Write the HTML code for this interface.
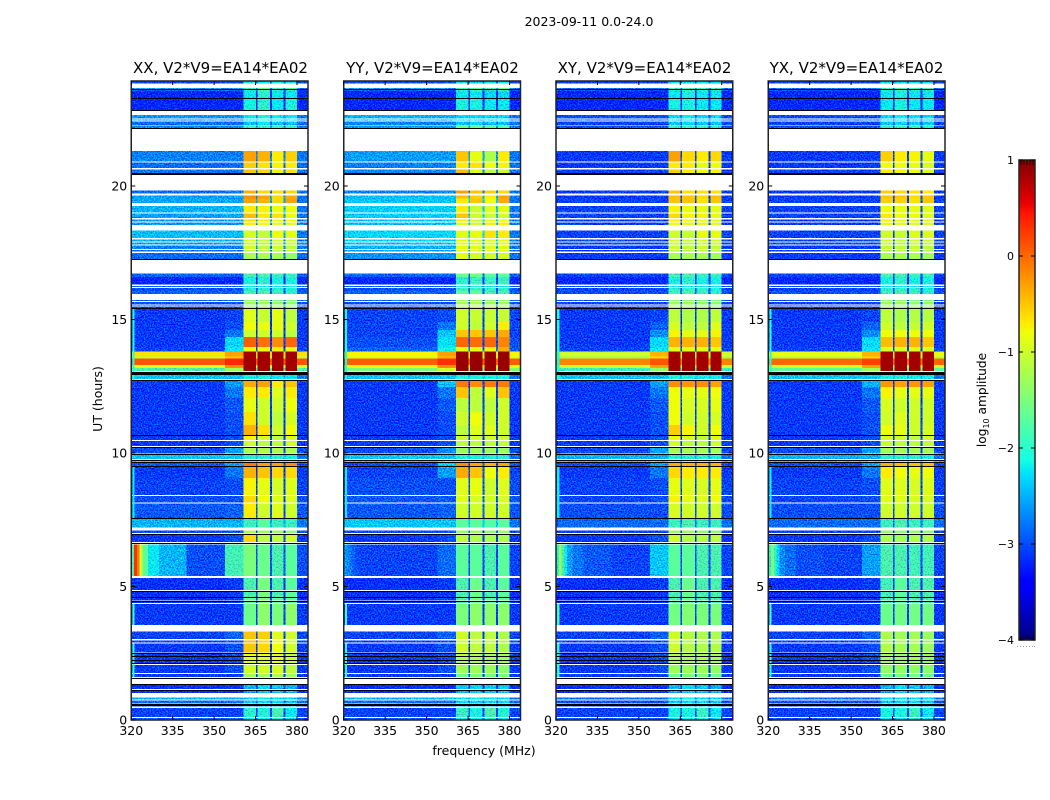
<!DOCTYPE html>
<html lang="en">
<head>
<meta charset="utf-8">
<title>2023-09-11 0.0-24.0</title>
<style>
html,body{margin:0;padding:0;background:#fff;width:1050px;height:800px;overflow:hidden}
svg{display:block}
text{font-family:"DejaVu Sans","Liberation Sans",sans-serif;fill:#000}
</style>
</head>
<body>
<svg id="figure" xmlns="http://www.w3.org/2000/svg" width="1050" height="800" viewBox="0 0 1050 800">
<defs>
<filter id="speckle" x="0" y="0" width="1" height="1" color-interpolation-filters="sRGB">
<feTurbulence type="fractalNoise" baseFrequency="0.7" numOctaves="2" seed="7" result="t"/>
<feColorMatrix in="t" type="matrix" values="0 0 0 0 .5  2.4 0 0 0 -.7  0 0 0 0 .5  0 0 0 0 1" result="n"/>
<feComposite in="SourceGraphic" in2="n" operator="arithmetic" k1="0" k2="1" k3=".6" k4="-.3" result="c"/>
<feComposite in="c" in2="SourceAlpha" operator="in"/>
</filter>
</defs>
<text x="589" y="26" font-size="12.5" text-anchor="middle">2023-09-11 0.0-24.0</text>
<text x="220.5" y="73" font-size="15" text-anchor="middle">XX, V2*V9=EA14*EA02</text>
<text x="432.5" y="73" font-size="15" text-anchor="middle">YY, V2*V9=EA14*EA02</text>
<text x="644.5" y="73" font-size="15" text-anchor="middle">XY, V2*V9=EA14*EA02</text>
<text x="856.5" y="73" font-size="15" text-anchor="middle">YX, V2*V9=EA14*EA02</text>
<text x="0" y="0" font-size="12.5" text-anchor="middle" transform="translate(102,399) rotate(-90)">UT (hours)</text>
<text x="484" y="755" font-size="12.5" text-anchor="middle">frequency (MHz)</text>
<text x="0" y="0" font-size="12.2" text-anchor="middle" transform="translate(986,400) rotate(-90)">log<tspan font-size="8" dy="3">10</tspan><tspan dy="-3"> amplitude</tspan></text>
<g id="panels"></g>
<g id="colorbar"></g>
</svg>
<script>
const freqTicks = [320, 335, 350, 365, 380];
const utTicks = [0, 5, 10, 15, 20];
const colorbarTicks = [1, 0, -1, -2, -3, -4];
const polarizations = ['xx', 'yy', 'xy', 'yx'];

// frequency bands (MHz): main background, glow, window 1, gap, window 2, gap, window 3, gap, window 4, right edge
const freqEdges = [320, 354, 360.7, 365.1, 365.7, 370.3, 370.9, 375.2, 375.9, 380, 384];
const bandSource = [0, 1, 2, 0, 3, 0, 4, 0, 5, 0];

const utTop = [23.93,23.67,23.58,23.30,22.66,22.49,22.42,22.25,21.31,20.88,20.62,19.83,19.64,19.53,19.25,18.97,18.75,18.63,18.33,18.00,17.88,17.77,17.60,17.49,17.32,16.72,16.59,16.25,16.18,16.09,15.73,15.66,15.52,15.47,15.41,14.91,14.61,14.34,13.97,13.80,13.61,13.54,13.30,13.18,12.93,12.73,12.47,12.06,11.54,11.05,10.64,10.45,10.22,9.94,9.68,9.49,9.06,8.39,8.11,7.53,7.10,6.97,6.57,5.32,4.83,4.57,4.46,4.34,3.31,2.98,2.87,2.49,2.36,2.23,2.06,1.72,1.31,1.12,0.84,0.73,0.56,0.45,0.07];
const utBottom = [23.84,23.58,23.30,22.85,22.53,22.45,22.27,22.16,20.92,20.67,20.49,19.72,19.53,19.36,19.01,18.80,18.67,18.54,18.05,17.92,17.81,17.64,17.55,17.32,17.25,16.59,16.31,16.22,16.09,15.96,15.69,15.56,15.49,15.41,14.91,14.61,14.34,13.97,13.80,13.61,13.54,13.30,13.18,13.07,12.77,12.47,12.06,11.54,11.05,10.67,10.49,10.26,9.98,9.78,9.51,9.06,8.43,8.15,7.57,7.21,7.00,6.67,5.39,4.87,4.61,4.48,4.38,3.56,3.03,2.90,2.53,2.40,2.25,2.13,1.76,1.61,1.16,1.01,0.77,0.62,0.51,0.11,0];

// each row: log10 amplitude [background, glow, window1, window2, window3, window4]
const xxLevels = [
[-3,-3,-2.1,-2.2,-2.1,-2.2],[-2.6,-2.6,-1.9,-1.7,-1.9,-1.8],[-3.2,-3.2,-2.2,-2,-2.2,-2.2],[-3.2,-3.2,-2.1,-2,-2.2,-2.1],[-2.65,-2.65,-2.2,-2.1,-2.2,-2.2],[-2.7,-2.7,-2.3,-2.2,-2.3,-2.3],[-2.85,-2.85,-2.4,-2.2,-2.4,-2.4],[-2.7,-2.7,-1.9,-1.9,-1.9,-2],
[-2.75,-2.75,-.3,-.4,-.7,-.55],[-2.85,-2.85,-.55,-.65,-.75,-.7],[-2.8,-2.8,-.5,-.6,-.75,-.65],
[-2.85,-2.8,-.4,-.6,-.65,-.6],[-2.6,-2.6,-.2,-.3,-.6,-.35],[-2.55,-2.55,-.3,-.4,-.6,-.3],[-2.5,-2.5,-.7,-.75,-.8,-.8],[-2.6,-2.55,-.45,-.7,-.65,-.8],[-2.6,-2.6,-.6,-.7,-.8,-.8],[-2.65,-2.65,-.7,-.8,-.9,-.9],[-2.45,-2.45,-.95,-1.05,-.8,-.85],[-2.55,-2.55,-.9,-1.05,-.95,-1],[-2.6,-2.6,-1,-1.1,-1,-1],[-2.75,-2.75,-1,-1.1,-1,-1.1],[-2.8,-2.8,-1.1,-1.1,-1.1,-1.1],[-2.85,-2.85,-1.2,-1.2,-1.2,-1.3],[-2.9,-2.9,-1.3,-1.3,-1.3,-1.3],
[-2.9,-2.9,-1.8,-1.8,-1.9,-1.9],[-3.2,-3.2,-2.1,-2,-2.1,-2.1],[-2.9,-2.9,-2.2,-2.2,-2.2,-2.2],[-3,-3,-2,-2,-2,-2.1],[-2.9,-2.9,-1.9,-1.8,-1.9,-2],[-2.9,-2.9,-1.4,-1.4,-1.5,-1.5],[-3,-3,-1.3,-1.3,-1.4,-1.4],[-3,-3,-1.3,-1.3,-1.3,-1.4],[-3.1,-3.1,-1.2,-1.3,-1.3,-1.3],
[-3.1,-3.05,-.9,-1.05,-.85,-1.1],[-3.1,-3,-.8,-.85,-.85,-1],[-3.1,-2.8,-1,-1,-1,-1.1],[-3.1,-2.3,.05,-.05,-.2,0],[-3.05,-2.2,-.8,-.8,-.7,-.8],[-.65,-.3,.85,.85,.85,.85],[-1.1,-.5,.85,.85,.85,.85],[.1,.35,.85,.85,.85,.85],[-.9,-.2,.85,.85,.85,.85],[-1.8,-1.3,.85,.85,.85,.85],[-2.4,-2.4,-2.1,-2.1,-2.2,-2.2],
[-3.1,-2.6,-.35,-.3,-.7,-.5],[-3.1,-2.8,-.7,-.7,-.9,-.7],[-3.1,-2.95,-.85,-1,-1,-.8],[-3.1,-3,-.65,-1,-1.1,-.95],[-3.1,-3,-.4,-.65,-1,-.8],[-3.1,-3,-.75,-.9,-1.1,-.9],[-3.1,-3,-1,-1.1,-1.1,-1],[-3,-2.6,-1.2,-1.2,-1.2,-1.2],[-2.4,-2.4,-2,-2,-2,-2.1],[-2.95,-2.6,-.1,-.3,-.3,-.2],[-3.1,-2.8,-.4,-.5,-.6,-.6],[-3.05,-3,-.75,-.85,-.95,-.9],[-3,-3,-.6,-.8,-.9,-.9],[-2.95,-2.9,-.7,-1,-.9,-1],[-2.5,-2.5,-1.9,-1.7,-1.9,-1.9],[-3,-3,-1.2,-1.3,-1.3,-1.4],[-3.1,-3,-.6,-1.1,-1.1,-1],[-3,-1.85,-1.5,-1.6,-1.8,-1.7],
[-3.15,-3.1,-1.8,-1.5,-1.8,-1.7],[-3.15,-3.1,-1.8,-1.5,-1.8,-1.7],[-3.15,-3.1,-1.7,-1.5,-1.7,-1.7],[-3.15,-3.1,-1.7,-1.5,-1.7,-1.7],[-3.1,-3.1,-1.6,-1.4,-1.5,-1.4],
[-3.05,-2.9,-.5,-.55,-.9,-1],[-3.05,-3,-.5,-.6,-.8,-1],[-3.1,-3,-.5,-.6,-.8,-1],[-3.1,-3,-.8,-.8,-.85,-1],[-3.1,-3,-.85,-.85,-.85,-1],[-3.1,-3,-.9,-.9,-.85,-1],[-3.1,-3,-1,-1,-.95,-1.1],[-3.1,-3.1,-1.3,-1.3,-1.2,-1.3],
[-3.15,-3.15,-2.5,-2.3,-2.4,-2.5],[-3.15,-3.15,-2.6,-2.4,-2.4,-2.5],[-2.5,-2.5,-2.3,-2.2,-2.3,-2.3],[-2.85,-2.85,-2.4,-2.3,-2.3,-2.4],[-3,-3,-2.4,-2.4,-2.4,-2.5],[-3.05,-3.05,-2,-2.05,-1.8,-2.2],[-2.95,-2.95,-2.2,-2.2,-2,-2.3]
];
const yyLevels = [
[-3,-3,-2.2,-2.3,-2.2,-2.2],[-2.6,-2.6,-1.9,-1.7,-1.8,-1.6],[-3.2,-3.2,-2.2,-2.2,-2.3,-2.3],[-3.2,-3.2,-2.1,-2.1,-2.2,-2.2],[-2.5,-2.5,-2.3,-2.3,-2.3,-2.3],[-2.55,-2.55,-2.3,-2.3,-2.3,-2.3],[-2.75,-2.75,-2.4,-2.3,-2.4,-2.4],[-2.6,-2.6,-1.6,-1.6,-1.7,-1.7],
[-2.6,-2.6,-.5,-.85,-1.2,-.7],[-2.75,-2.75,-.7,-.65,-.8,-.75],[-2.7,-2.7,-.45,-.9,-1.1,-1],
[-2.75,-2.7,-.3,-.5,-.55,-.6],[-2.45,-2.45,-.45,-.55,-.7,-.3],[-2.4,-2.4,-.7,-.5,-.8,-.35],[-2.35,-2.35,-.7,-1,-.9,-.85],[-2.35,-2.35,-.5,-1,-1,-.95],[-2.4,-2.4,-.7,-1,-.9,-.9],[-2.45,-2.45,-.9,-1,-.7,-.75],[-2.3,-2.3,-.9,-.85,-.65,-.7],[-2.35,-2.35,-.85,-.9,-.9,-.85],[-2.45,-2.45,-.85,-.9,-.9,-.85],[-2.5,-2.5,-.85,-.9,-.9,-.9],[-2.6,-2.6,-.85,-.9,-.9,-.9],[-2.65,-2.65,-.85,-.95,-.95,-.95],[-2.7,-2.7,-.9,-1,-1,-1],
[-2.9,-2.9,-1.6,-1.6,-1.7,-1.7],[-3.2,-3.2,-2,-1.9,-1.9,-1.9],[-2.9,-2.9,-2.1,-2.1,-2.2,-2.2],[-3,-3,-1.9,-1.9,-2,-2],[-2.9,-2.9,-1.7,-1.7,-1.8,-1.8],[-2.9,-2.9,-1.3,-1.3,-1.4,-1.4],[-3,-3,-1.2,-1.2,-1.3,-1.3],[-3,-3,-1.2,-1.2,-1.2,-1.2],[-3.1,-3.1,-1.1,-1.1,-1.1,-1.2],
[-3.05,-3,-1,-1.05,-1.05,-1.05],[-3.05,-2.8,-1,-1.1,-1,-.7],[-3.05,-2.4,-.5,-.5,-.5,-.35],[-3,-2.25,0,-.02,0,-.15],[-2.9,-2.1,-.85,-.85,-.75,-.35],[-.75,-.3,.9,.9,.9,.9],[-.95,-.4,.9,.9,.9,.9],[.05,.3,.9,.9,.9,.9],[-.75,-.2,.9,.9,.9,.9],[-1.5,-1,.9,.9,.9,.9],[-2.4,-2.4,-2.1,-2.1,-2.1,-2.1],
[-3.1,-2.4,-.1,-.2,-.1,-.1],[-3.1,-2.8,-.5,-1.1,-.9,-.5],[-3.1,-2.95,-1.1,-1.1,-1.1,-1],[-3.1,-3,-1,-.8,-1,-1],[-3.1,-3,-1.1,-.9,-.9,-1],[-3.1,-3,-1,-1,-1,-1],[-3.1,-3,-1.1,-1.1,-1.1,-1.05],[-3,-2.7,-1.3,-1.3,-1.3,-1.3],[-2.4,-2.4,-2.05,-2.1,-2.05,-2],[-3,-2.4,-.2,-.3,-.4,-.3],[-3.05,-2.6,-.35,-.5,-.8,-.7],[-3,-3,-.9,-.85,-1,-.9],[-2.95,-2.95,-.9,-.95,-1,-.95],[-2.95,-2.9,-1,-1,-1,-1],[-2.4,-2.4,-1.7,-1.7,-1.75,-1.7],[-3,-3,-1.4,-1.3,-1.4,-1.3],[-3.1,-3,-1.1,-1.2,-1.2,-1.2],[-3.05,-2.85,-1.7,-1.7,-1.8,-1.7],
[-3.15,-3.1,-1.8,-1.6,-1.8,-1.7],[-3.15,-3.1,-1.8,-1.6,-1.8,-1.7],[-3.15,-3.1,-1.8,-1.6,-1.7,-1.7],[-3.15,-3.1,-1.8,-1.6,-1.7,-1.7],[-3.1,-3.1,-1.5,-1.4,-1.4,-1.4],
[-3.05,-2.9,-1,-1.1,-1.1,-1.2],[-3.05,-3,-1,-1.1,-1.1,-1.2],[-3.1,-3,-1,-1.1,-1.1,-1.2],[-3.1,-3,-1.1,-1.2,-1.2,-1.25],[-3.1,-3,-1.15,-1.2,-1.2,-1.3],[-3.1,-3,-1.2,-1.25,-1.25,-1.3],[-3.1,-3,-1.3,-1.3,-1.3,-1.4],[-3.1,-3.1,-1.6,-1.5,-1.5,-1.5],
[-3.15,-3.15,-2.4,-2.3,-2.4,-2.4],[-3.15,-3.15,-2.5,-2.4,-2.4,-2.4],[-2.45,-2.45,-2.3,-2.2,-2.3,-2.3],[-2.85,-2.85,-2.3,-2.3,-2.3,-2.3],[-3,-3,-2.4,-2.4,-2.4,-2.4],[-3.05,-3.05,-1.9,-2.1,-1.8,-2],[-2.95,-2.95,-2.2,-2.2,-2,-2.2]
];
const xyLevels = [
[-3.05,-3.05,-2.2,-2.3,-2.2,-2.3],[-2.8,-2.8,-1.9,-1.8,-1.9,-1.8],[-3.2,-3.2,-2.2,-2.1,-2.2,-2.2],[-3.2,-3.2,-2.1,-2.1,-2.2,-2.2],[-3,-3,-2.3,-2.2,-2.3,-2.3],[-3,-3,-2.3,-2.3,-2.3,-2.3],[-3.05,-3.05,-2.4,-2.3,-2.4,-2.4],[-3,-3,-1.9,-1.9,-1.9,-2],
[-3.1,-3.1,-.3,-.6,-.7,-.6],[-3.1,-3.1,-.7,-.7,-.85,-.8],[-3.05,-3.05,-.55,-.7,-.8,-.75],
[-3.1,-3.1,-.5,-.65,-.65,-.65],[-3.1,-3.1,-.45,-.5,-.6,-.45],[-3.05,-3.05,-.5,-.5,-.65,-.5],[-3.05,-3.05,-.75,-.85,-.85,-.85],[-3.05,-3.05,-.6,-.75,-.75,-.85],[-3.1,-3.1,-.7,-.8,-.85,-.85],[-3.1,-3.1,-.8,-.9,-.9,-.9],[-3.05,-3.05,-1,-1.05,-.85,-.85],[-3.05,-3.05,-.95,-1.05,-.95,-1],[-3.05,-3.05,-1,-1.1,-1,-1],[-3.1,-3.1,-1,-1.1,-1,-1.1],[-3.1,-3.1,-1.1,-1.1,-1.1,-1.1],[-3.1,-3.1,-1.2,-1.2,-1.2,-1.25],[-3.1,-3.1,-1.3,-1.3,-1.3,-1.3],
[-3.05,-3.05,-1.8,-1.8,-1.9,-1.9],[-3.2,-3.2,-2.1,-2,-2.1,-2.1],[-3,-3,-2.2,-2.2,-2.2,-2.2],[-3.05,-3.05,-2,-2,-2,-2.1],[-3,-3,-1.9,-1.8,-1.9,-2],[-3,-3,-1.4,-1.4,-1.5,-1.5],[-3.05,-3.05,-1.3,-1.3,-1.4,-1.4],[-3.05,-3.05,-1.3,-1.3,-1.3,-1.4],[-3.1,-3.1,-1.2,-1.3,-1.3,-1.3],
[-3.1,-3.05,-1.1,-1.2,-1.2,-1.1],[-3.1,-2.9,-.95,-1.1,-1.1,-.9],[-3.1,-2.7,-.75,-.85,-.85,-.75],[-3.1,-2.3,-.4,-.4,-.4,-.5],[-3.05,-2.2,-.85,-.85,-.85,-.85],[-1,-.4,.85,.85,.85,.85],[-1.25,-.6,.85,.85,.85,.85],[-.15,.1,.85,.85,.85,.85],[-1,-.3,.85,.85,.85,.85],[-1.9,-1.4,.85,.85,.85,.85],[-2.4,-2.4,-2.1,-2.1,-2.15,-2.15],
[-3.1,-2.6,-.2,-.25,-.2,-.3],[-3.1,-2.8,-.8,-.85,-.85,-.8],[-3.1,-2.95,-.8,-.95,-.95,-.85],[-3.1,-3,-.8,-1,-1,-.95],[-3.1,-3,-.55,-.75,-1,-.8],[-3.1,-3,-.8,-.95,-1.1,-.9],[-3.1,-3,-1,-1.1,-1.1,-1],[-3,-2.6,-1.25,-1.25,-1.25,-1.25],[-2.5,-2.5,-2,-2,-2,-2.1],[-3,-2.6,-.35,-.4,-.4,-.4],[-3.1,-2.8,-.6,-.7,-.7,-.7],[-3.05,-3,-.85,-.9,-.95,-.85],[-3.05,-3,-.75,-.85,-.9,-.8],[-3,-3,-.95,-1,-1,-1],[-2.85,-2.85,-1.9,-1.8,-1.9,-1.9],[-3.05,-3.05,-1.3,-1.3,-1.4,-1.4],[-3.1,-3,-1,-1.15,-1.15,-1.1],[-3.05,-2.4,-1.7,-1.7,-1.8,-1.8],
[-3.15,-3.1,-1.8,-1.6,-1.8,-1.8],[-3.15,-3.1,-1.8,-1.6,-1.8,-1.8],[-3.15,-3.1,-1.8,-1.6,-1.8,-1.8],[-3.15,-3.1,-1.8,-1.6,-1.8,-1.8],[-3.1,-3.1,-1.55,-1.45,-1.5,-1.5],
[-3.05,-2.9,-1,-1.15,-1.2,-1.2],[-3.05,-3,-1,-1.15,-1.2,-1.2],[-3.1,-3,-1,-1.15,-1.2,-1.2],[-3.1,-3,-1.15,-1.2,-1.2,-1.25],[-3.1,-3,-1.2,-1.2,-1.2,-1.3],[-3.1,-3,-1.2,-1.25,-1.25,-1.3],[-3.1,-3,-1.3,-1.3,-1.3,-1.35],[-3.1,-3.1,-1.6,-1.5,-1.5,-1.6],
[-3.15,-3.15,-2.5,-2.3,-2.4,-2.5],[-3.15,-3.15,-2.6,-2.4,-2.4,-2.5],[-2.85,-2.85,-2.3,-2.2,-2.3,-2.3],[-3,-3,-2.4,-2.3,-2.3,-2.4],[-3.05,-3.05,-2.4,-2.4,-2.4,-2.5],[-3.05,-3.05,-2.1,-2.1,-1.9,-2.2],[-3,-3,-2.2,-2.2,-2,-2.3]
];
const yxLevels = [
[-3.05,-3.05,-2.2,-2.3,-2.2,-2.3],[-2.8,-2.8,-1.9,-1.8,-1.9,-1.8],[-3.2,-3.2,-2.2,-2.1,-2.2,-2.2],[-3.2,-3.2,-2.2,-2.1,-2.2,-2.2],[-3,-3,-2.3,-2.2,-2.3,-2.3],[-3,-3,-2.3,-2.3,-2.3,-2.3],[-3.05,-3.05,-2.4,-2.3,-2.4,-2.4],[-3,-3,-1.9,-1.9,-1.9,-2],
[-3.1,-3.1,-.55,-.7,-.75,-.85],[-3.1,-3.1,-.8,-.8,-.85,-.95],[-3.05,-3.05,-.7,-.75,-.8,-.9],
[-3.1,-3.1,-.55,-.6,-.65,-.7],[-3.1,-3.1,-.5,-.5,-.6,-.5],[-3.05,-3.05,-.55,-.55,-.65,-.5],[-3.05,-3.05,-.8,-.85,-.85,-.9],[-3.05,-3.05,-.7,-.8,-.8,-.9],[-3.1,-3.1,-.75,-.85,-.85,-.9],[-3.1,-3.1,-.85,-.9,-.9,-.95],[-3.05,-3.05,-1,-1.05,-.9,-.95],[-3.05,-3.05,-1,-1.05,-1,-1],[-3.05,-3.05,-1,-1.1,-1,-1.05],[-3.1,-3.1,-1.05,-1.1,-1.05,-1.1],[-3.1,-3.1,-1.1,-1.15,-1.1,-1.15],[-3.1,-3.1,-1.2,-1.2,-1.2,-1.25],[-3.1,-3.1,-1.3,-1.3,-1.3,-1.3],
[-3.05,-3.05,-1.8,-1.8,-1.9,-1.9],[-3.2,-3.2,-2.1,-2,-2.1,-2.1],[-3,-3,-2.2,-2.2,-2.2,-2.2],[-3.05,-3.05,-2,-2,-2,-2.1],[-3,-3,-1.9,-1.8,-1.9,-2],[-3,-3,-1.4,-1.4,-1.5,-1.5],[-3.05,-3.05,-1.3,-1.3,-1.4,-1.4],[-3.05,-3.05,-1.3,-1.3,-1.3,-1.4],[-3.1,-3.1,-1.2,-1.3,-1.3,-1.3],
[-3.1,-3.05,-1.1,-1.2,-1.15,-1.15],[-3.1,-2.9,-1,-1.1,-1.05,-1],[-3.1,-2.7,-.8,-.8,-.8,-.8],[-3.1,-2.3,-.45,-.4,-.4,-.5],[-3.05,-2.2,-.9,-.9,-.85,-.9],[-.85,-.4,.85,.85,.85,.85],[-1.15,-.6,.85,.85,.85,.85],[0,.2,.85,.85,.85,.85],[-.95,-.3,.85,.85,.85,.85],[-1.7,-1.3,.85,.85,.85,.85],[-2.4,-2.4,-2.1,-2.1,-2.15,-2.15],
[-3.1,-2.5,-.25,-.3,-.25,-.3],[-3.1,-2.8,-.75,-.85,-.85,-.85],[-3.1,-2.95,-.95,-1,-1,-1],[-3.1,-3,-1,-.9,-1,-1],[-3.1,-3,-.8,-.85,-1,-.95],[-3.1,-3,-.95,-1,-1.1,-1],[-3.1,-3,-1.05,-1.1,-1.1,-1.05],[-3,-2.6,-1.25,-1.25,-1.25,-1.25],[-2.5,-2.5,-2,-2,-2,-2.1],[-3,-2.6,-.35,-.45,-.45,-.45],[-3.1,-2.8,-.7,-.8,-.85,-.8],[-3.05,-3,-.9,-.9,-.95,-.9],[-3.05,-3,-.9,-.9,-.95,-.95],[-3,-3,-1,-1,-1,-1],[-2.85,-2.85,-1.9,-1.8,-1.9,-1.9],[-3.05,-3.05,-1.4,-1.4,-1.4,-1.4],[-3.1,-3,-1.2,-1.25,-1.2,-1.2],[-3.05,-2.6,-1.8,-1.8,-1.85,-1.85],
[-3.15,-3.1,-1.85,-1.7,-1.8,-1.8],[-3.15,-3.1,-1.85,-1.7,-1.8,-1.8],[-3.15,-3.1,-1.8,-1.7,-1.8,-1.8],[-3.15,-3.1,-1.8,-1.7,-1.8,-1.8],[-3.1,-3.1,-1.6,-1.55,-1.55,-1.55],
[-3.05,-2.9,-1.2,-1.25,-1.25,-1.3],[-3.05,-3,-1.2,-1.25,-1.25,-1.3],[-3.1,-3,-1.2,-1.25,-1.25,-1.3],[-3.1,-3,-1.25,-1.3,-1.25,-1.3],[-3.1,-3,-1.25,-1.3,-1.25,-1.35],[-3.1,-3,-1.3,-1.3,-1.3,-1.35],[-3.1,-3,-1.35,-1.35,-1.35,-1.4],[-3.1,-3.1,-1.6,-1.55,-1.55,-1.6],
[-3.15,-3.15,-2.5,-2.3,-2.4,-2.5],[-3.15,-3.15,-2.6,-2.4,-2.4,-2.5],[-2.85,-2.85,-2.3,-2.2,-2.3,-2.3],[-3,-3,-2.4,-2.3,-2.3,-2.4],[-3.05,-3.05,-2.4,-2.4,-2.4,-2.5],[-3.05,-3.05,-2.1,-2.1,-1.9,-2.2],[-3,-3,-2.2,-2.2,-2,-2.3]
];

// low-frequency interference at 5.39-6.57 UT, per polarization
const hotUt = [6.57, 5.39];
const hotFreqEdges = [320, 321, 322, 323, 324, 326, 330, 340];
const hotXX = [-1.8, 0.3, -0.1, -1, -1.7, -2.2, -2.5];
const hotYY = [-2.6, -2.7, -2.8, -2.9, -3, -3.05, -3.05];
const hotXY = [-2, -1.3, -1.8, -2.2, -2.6, -2.8, -2.95];
const hotYX = [-2, -1.5, -1.9, -2.3, -2.7, -2.85, -3];

// left-most channel bright stretches (UT)
const edgeTop = [15.41, 9.49, 4.34, 2.87];
const edgeBottom = [12.73, 7.57, 3.56, 1.61];
const edgeLevel = [-2.1, -2.2, -1.9, -2];

// UT values of scan-boundary lines
const scanLines = [23.62,23.30,22.85,22.16,20.49,20.44,17.27,15.42,13.05,13.0,12.95,12.75,10.66,10.24,9.96,9.75,9.68,9.52,7.55,6.97,6.64,4.85,4.59,4.47,2.51,2.38,2.24,2.12,1.59,1.56,1.33,1.14,0.6,0.55];

const NS = 'http://www.w3.org/2000/svg';
const panelLeft = [131.25, 343.75, 556, 768.25];
const panelWidth = 176.75;
const plotTop = 81;
const plotBottom = 720;
const levelSets = [xxLevels, yyLevels, xyLevels, yxLevels];
const hotSets = [hotXX, hotYY, hotXY, hotYX];

function xScale(panel, mhz) { return panelLeft[panel] + (mhz - 320) * panelWidth / 64; }
function yScale(ut) { return plotBottom - ut * 26.7; }

const jetR = [[0,0],[.35,0],[.66,1],[.89,1],[1,.5]];
const jetG = [[0,0],[.125,0],[.375,1],[.64,1],[.91,0],[1,0]];
const jetB = [[0,.5],[.11,1],[.34,1],[.65,0],[1,0]];
function lerp(table, t) {
  for (let i = 1; i < table.length; i++) {
    if (t <= table[i][0]) {
      const a = table[i - 1], b = table[i];
      return a[1] + (b[1] - a[1]) * (t - a[0]) / (b[0] - a[0]);
    }
  }
  return table[table.length - 1][1];
}
function jet(level) {
  const t = Math.max(0, Math.min(1, (level + 4) / 5));
  const c = [jetR, jetG, jetB].map(tb => Math.round(lerp(tb, t) * 255));
  return 'rgb(' + c.join(',') + ')';
}
function make(tag, attrs, parent) {
  const el = document.createElementNS(NS, tag);
  for (const k in attrs) el.setAttribute(k, attrs[k]);
  parent.appendChild(el);
  return el;
}
function cell(parent, x0, x1, y0, y1, level) {
  const el = make('rect', { x: x0, y: y0, width: x1 - x0, height: y1 - y0, fill: jet(level), 'shape-rendering': 'crispEdges' }, parent);
  
  
  return el;
}

const panelsRoot = document.getElementById('panels');
polarizations.forEach((pol, p) => {
  const g = make('g', {}, panelsRoot);
  
  
  const noisy = make('g', { filter: 'url(#speckle)' }, g);
  
  
  const smooth = make('g', {}, g);
  
  
  const levels = levelSets[p];
  utTop.forEach((top, r) => {
    const row = levels[r];
    bandSource.forEach((src, c) => {
      let v = row[src];
      // the band above 380 MHz sits a little darker than the main background
      if (c === bandSource.length - 1 && v < -1.9) v = Math.min(v, -2.8);
      cell(v < -1.75 ? noisy : smooth, xScale(p, freqEdges[c]), xScale(p, freqEdges[c + 1]), yScale(top), yScale(utBottom[r]), v);
    });
  });
  hotSets[p].forEach((v, c) => {
    cell(v < -1.75 ? noisy : smooth, xScale(p, hotFreqEdges[c]), xScale(p, hotFreqEdges[c + 1]), yScale(hotUt[0]), yScale(hotUt[1]), v);
  });
  edgeTop.forEach((top, e) => {
    cell(smooth, xScale(p, 320.4), xScale(p, 321.2), yScale(top), yScale(edgeBottom[e]), edgeLevel[e]);
  });
  scanLines.forEach(ut => {
    const y = Math.round(yScale(ut)) + 0.5;
    const line = make('line', { x1: panelLeft[p], x2: panelLeft[p] + panelWidth, y1: y, y2: y, stroke: '#000', 'stroke-width': 1 }, g);
    
    
  });
  const frame = make('rect', { x: panelLeft[p], y: plotTop, width: panelWidth, height: plotBottom - plotTop, fill: 'none', stroke: '#222', 'stroke-width': 1.5 }, g);
  
  
  freqTicks.forEach(f => {
    const x = xScale(p, f);
    [[plotBottom, plotBottom - 4], [plotTop, plotTop + 4]].forEach(pair => {
      const t = make('line', { x1: x, x2: x, y1: pair[0], y2: pair[1], stroke: '#000', 'stroke-width': 1 }, g);
      
      
    });
    const label = make('text', { x: x, y: 735, 'font-size': 12.5, 'text-anchor': 'middle' }, g);
    
    
    label.textContent = f;
  });
  utTicks.forEach(u => {
    const y = yScale(u);
    const l = panelLeft[p], r = l + panelWidth;
    [[l, l + 4], [r, r - 4]].forEach(pair => {
      const t = make('line', { x1: pair[0], x2: pair[1], y1: y, y2: y, stroke: '#000', 'stroke-width': 1 }, g);
      
      
    });
    const label = make('text', { x: l - 4, y: y + 4.5, 'font-size': 12.5, 'text-anchor': 'end' }, g);
    
    
    label.textContent = u;
  });
});

// colorbar
const cbRoot = document.getElementById('colorbar');
const cbX = 1019, cbW = 16, cbTop = 160, cbBottom = 640;
function cbY(level) { return cbBottom - (level + 4) * (cbBottom - cbTop) / 5; }
for (let y = cbTop; y < cbBottom; y += 2) {
  const seg = make('rect', { x: cbX, y: y, width: cbW, height: 2, fill: jet(-4 + (cbBottom - y - 1) * 5 / (cbBottom - cbTop)), 'shape-rendering': 'crispEdges' }, cbRoot);
  
  
}
const cbFrame = make('rect', { x: cbX, y: cbTop, width: cbW, height: cbBottom - cbTop, fill: 'none', stroke: '#222', 'stroke-width': 1.5 }, cbRoot);


colorbarTicks.forEach(v => {
  const y = cbY(v);
  [[cbX, cbX + 4], [cbX + cbW, cbX + cbW - 4]].forEach(pair => {
    const t = make('line', { x1: pair[0], x2: pair[1], y1: y, y2: y, stroke: '#000', 'stroke-width': 1 }, cbRoot);
    
    
  });
  const label = make('text', { x: 1014, y: y + 4, 'font-size': 11, 'text-anchor': 'end' }, cbRoot);
  
  
  label.textContent = String(v).replace('-', '\u2212');
});
[1, 4, 7, 10, 13].forEach(dx => {
  [[cbTop, cbTop + 5], [cbBottom, cbBottom - 5]].forEach(pair => {
    const t = make('line', { x1: cbX + dx + 1, x2: cbX + dx + 1, y1: pair[0], y2: pair[1], stroke: '#000', 'stroke-width': 0.7 }, cbRoot);
    
    
  });
});
[1017, 1020, 1023, 1026, 1029, 1032, 1034].forEach(x => {
  const d = make('rect', { x: x, y: 646, width: 1, height: 1, fill: '#999' }, cbRoot);
  
  
});
</script>
</body>
</html>
